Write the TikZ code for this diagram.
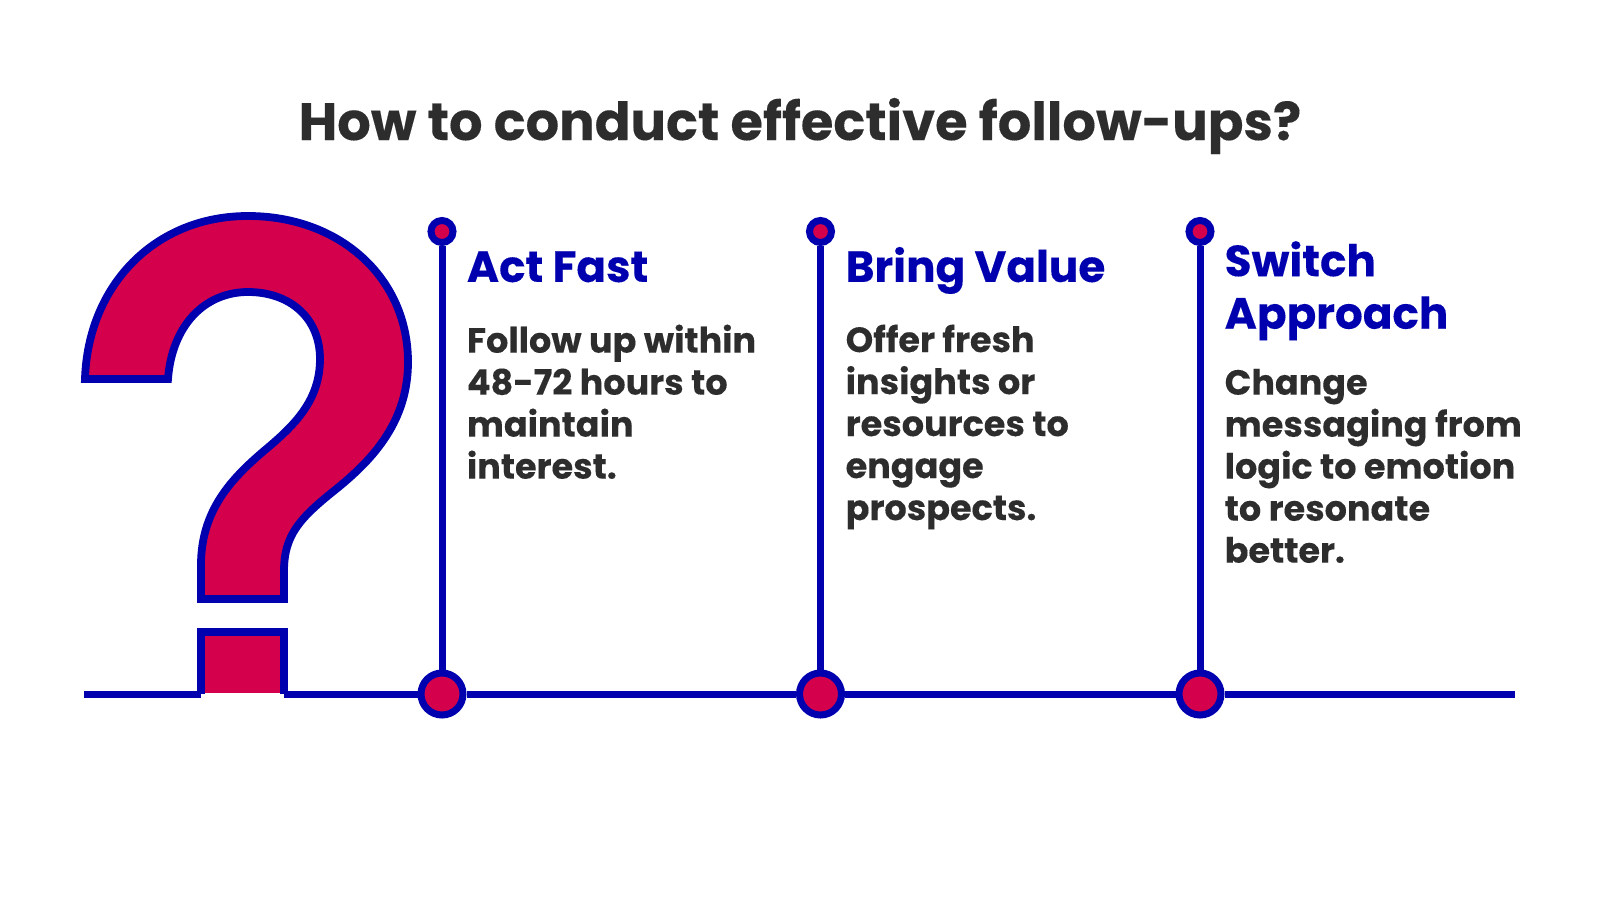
\documentclass[tikz,border=0pt]{standalone}
\usepackage{fontspec}
\setmainfont{Poppins}[BoldFeatures={FakeBold=0.2}]
\usetikzlibrary{positioning}
\definecolor{railblue}{HTML}{0000AF}
\definecolor{markred}{HTML}{D5004C}
\definecolor{inkgrey}{HTML}{2D2D2D}
\tikzset{
  rail/.style={draw=railblue, line width=7pt},
  hub/.style={circle, minimum size = 42pt, inner sep=0pt, line width=7pt, draw=railblue, fill=markred},
  knob/.style={circle, minimum size = 22pt, inner sep=0pt, line width=7pt, draw=railblue, fill=markred},
  query/.style={draw=railblue, line width=7.8pt, miter limit=4},
  head/.style={anchor=north west, inner sep=0pt, align=left, text=railblue, execute at begin node={\strut}, font=\bfseries\fontsize{43.7}{52.5}\selectfont},
  body/.style={anchor=north west, inner sep=0pt, align=left, text=inkgrey, execute at begin node={\strut}, font=\bfseries\fontsize{35}{42}\selectfont},
  title/.style={text=inkgrey, font=\bfseries\fontsize{52.7}{60}\selectfont}
}
\begin{document}
\begin{tikzpicture}[x=1pt, y=-1pt]
  \useasboundingbox (0,0) rectangle (1600,905);
  \node[title] (T) at (800,126) {How to conduct effective follow-ups?};
  % question mark
  \draw[query, fill=markred]
    (85,379) .. controls (88,285) and (155,216) .. (248,216)
    .. controls (340,216) and (408,278) .. (408,362)
    .. controls (408,420) and (375,458) .. (335,490)
    .. controls (300,518) and (284,535) .. (284,571)
    -- (284,599) -- (201,599) -- (201,565)
    .. controls (201,510) and (232,478) .. (265,450)
    .. controls (295,425) and (320,400) .. (320,359)
    .. controls (320,318) and (290,292) .. (248,292)
    .. controls (205,292) and (172,325) .. (168,379) -- cycle;
  \fill[markred] (201,632) rectangle (284,693);
  \draw[query] (201,694) -- (201,632) -- (284,632) -- (284,694);

  \coordinate (RL) at (84,694);
  \coordinate (QL) at (201,694);
  \coordinate (QR) at (284,694);
  \coordinate (RR) at (1515,694);
  \node[hub] (H1) at (442,694) {};
  \node[hub] (H2) at (820.5,694) {};
  \node[hub] (H3) at (1200,694) {};
  \node[knob] (K1) at (442,231.5) {};
  \node[knob] (K2) at (820.5,231.5) {};
  \node[knob] (K3) at (1200,231.5) {};
  \draw[rail] (RL) -- (QL);
  \draw[rail] (QR) -- (H1);
  \draw[rail] (H1) -- (H2);
  \draw[rail] (H2) -- (H3);
  \draw[rail] (H3) -- (RR);
  \draw[rail] (K1) -- (H1);
  \draw[rail] (K2) -- (H2);
  \draw[rail] (K3) -- (H3);

  \node[head] (A1) at (466.7,245) {Act Fast};
  \node[body] (B1) at (466.7,324.4) {Follow up within\\48-72 hours to\\maintain\\interest.};
  \node[head] (A2) at (845.5,245) {Bring Value};
  \node[body] (B2) at (845.5,324.4) {Offer fresh\\insights or\\resources to\\engage\\prospects.};
  \node[head] (A3) at (1224.5,241) {Switch\\Approach};
  \node[body] (B3) at (1224.5,368.6) {Change\\messaging from\\logic to emotion\\to resonate\\better.};
\end{tikzpicture}
\end{document}
